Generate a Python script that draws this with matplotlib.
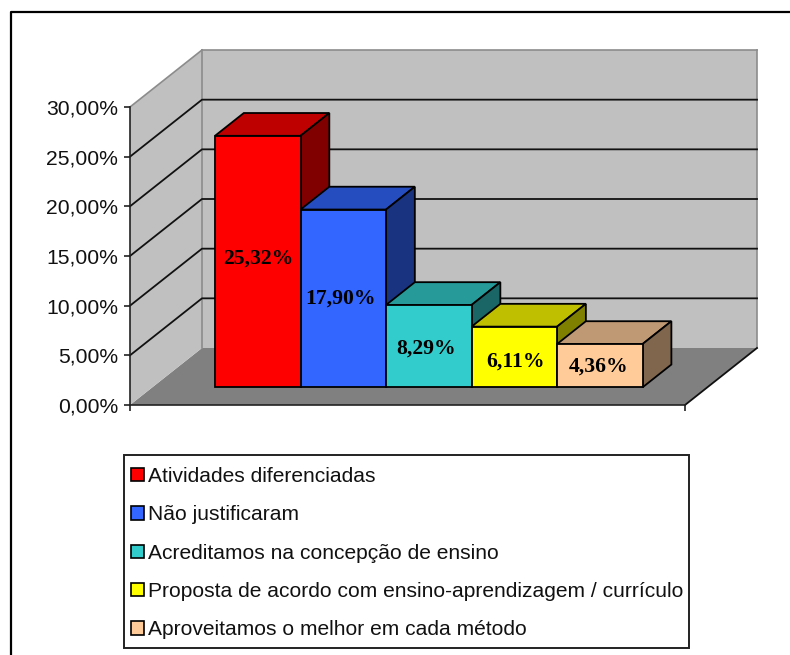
import matplotlib
matplotlib.use("Agg")
import matplotlib.pyplot as plt
from matplotlib.patches import Polygon, Patch, Rectangle

plt.rcParams["font.family"] = ["Liberation Sans", "DejaVu Sans"]

categorias = ["Atividades diferenciadas", "Não justificaram",
              "Acreditamos na concepção de ensino",
              "Proposta de acordo com ensino-aprendizagem / currículo",
              "Aproveitamos o melhor em cada método"]
valores = [25.32, 17.90, 8.29, 6.11, 4.36]
rotulos = ["25,32%", "17,90%", "8,29%", "6,11%", "4,36%"]
ticks_y = [0, 5, 10, 15, 20, 25, 30]
ticks_y_txt = ["0,00%", "5,00%", "10,00%", "15,00%", "20,00%", "25,00%", "30,00%"]

cor_frente = ["#FF0000", "#3366FF", "#33CCCC", "#FFFF00", "#FFCC99"]
cor_topo = ["#BF0000", "#264DBF", "#269999", "#BFBF00", "#BF9973"]
cor_lado = ["#800000", "#193380", "#1A6666", "#808000", "#80664D"]

# ajuste fino dos rotulos, em pixels
ajuste_x = [0, -2.5, -2.5, 1, -1.5]
ajuste_y = [2.5, 0, -2, -5, -1]

W, H = 790, 655
fig = plt.figure(figsize=(W / 100, H / 100), dpi=100, facecolor="white")

# moldura: so em cima e na esquerda
fig.add_artist(plt.Line2D([11 / W, 11 / W, 1], [0, 1 - 11.5 / H, 1 - 11.5 / H],
                          color="black", lw=1.6, transform=fig.transFigure))

# plano da frente do grafico em pixels
x0, x1, ybase, ytopo = 130, 685, 405, 107
ax = fig.add_axes([x0 / W, 1 - ybase / H, (x1 - x0) / W, (ybase - ytopo) / H])
ax.set_xlim(-0.733, 5.757)
ax.set_ylim(0, 30)
ax.patch.set_visible(False)

px_x = (x1 - x0) / 6.49
px_y = (ybase - ytopo) / 30.0
prof_x = 72 / px_x
prof_y = 57 / px_y


def proj(x, y, d):
    # d = profundidade, 0 na frente e 1 no fundo
    return (x + d * prof_x, y + d * prof_y)


def poli(pts, cor, ec="none", lw=0, z=1):
    ax.add_patch(Polygon(pts, closed=True, facecolor=cor, edgecolor=ec, linewidth=lw,
                         zorder=z, clip_on=False, joinstyle="miter"))


xa, xb = ax.get_xlim()
poli([proj(xa, 0, 0), proj(xb, 0, 0), proj(xb, 0, 1), proj(xa, 0, 1)], "#808080")
poli([proj(xa, 0, 0), proj(xa, 0, 1), proj(xa, 30, 1), proj(xa, 30, 0)], "#C0C0C0")
poli([proj(xa, 0, 1), proj(xb, 0, 1), proj(xb, 30, 1), proj(xa, 30, 1)], "#C0C0C0")

# contorno cinza das paredes
for a, b in [(proj(xa, 30, 0), proj(xa, 30, 1)), (proj(xa, 30, 1), proj(xb, 30, 1)),
             (proj(xb, 30, 1), proj(xb, 0, 1)), (proj(xa, 30, 1), proj(xa, 0, 1))]:
    ax.plot([a[0], b[0]], [a[1], b[1]], color="#8C8C8C", lw=1.2, zorder=1.2, clip_on=False)

# grades
for t in ticks_y[1:-1]:
    a, b, c = proj(xa, t, 0), proj(xa, t, 1), proj(xb, t, 1)
    ax.plot([a[0], b[0], c[0]], [a[1], b[1], c[1]], color="#111111", lw=1.3, zorder=1.5,
            clip_on=False)

a, b = proj(xb, 0, 0), proj(xb, 0, 1)
ax.plot([a[0], b[0]], [a[1], b[1]], color="#111111", lw=1.3, zorder=1.5, clip_on=False)

# barras
d1, d2 = 0.31, 0.71
lw_barra = 1.3
for i, v in enumerate(valores):
    e, r = i, i + 1
    poli([proj(e, v, d1), proj(r, v, d1), proj(r, v, d2), proj(e, v, d2)],
         cor_topo[i], "black", lw_barra, 3 + i * 0.1)
    poli([proj(r, 0, d1), proj(r, 0, d2), proj(r, v, d2), proj(r, v, d1)],
         cor_lado[i], "black", lw_barra, 3 + i * 0.1)
    poli([proj(e, 0, d1), proj(r, 0, d1), proj(r, v, d1), proj(e, v, d1)],
         cor_frente[i], "black", lw_barra, 3.05 + i * 0.1)
    ax.annotate(rotulos[i], proj(i + 0.5, v / 2, d1),
                xytext=(ajuste_x[i] * 0.72, ajuste_y[i] * 0.72), textcoords="offset points",
                ha="center", va="center", fontsize=15.6, family=["Liberation Serif"],
                weight="bold", color="black", zorder=5)

ax.set_yticks(ticks_y)
ax.set_yticklabels(ticks_y_txt, fontsize=15.2, color="#111111")
ax.set_xticks([xa, xb])
ax.set_xticklabels(["", ""])
ax.tick_params(axis="both", length=4, width=1.2, color="#222222", pad=4.5)
ax.spines["top"].set_visible(False)
ax.spines["right"].set_visible(False)
ax.spines["left"].set_linewidth(1.2)
ax.spines["bottom"].set_linewidth(1.2)
ax.spines["left"].set_color("#222222")
ax.spines["bottom"].set_color("#222222")

# legenda: caixa separada porque a folga vertical e maior que a horizontal
fig.add_artist(Rectangle((124 / W, 1 - 648 / H), 565 / W, 193 / H, transform=fig.transFigure,
                         facecolor="white", edgecolor="#222222", linewidth=1.4))
itens = [Patch(facecolor=c, edgecolor="black", linewidth=1.2) for c in cor_frente]
leg = fig.legend(itens, categorias, loc="upper left",
                 bbox_to_anchor=(131 / W, 1 - 467 / H), bbox_transform=fig.transFigure,
                 fontsize=15.15, frameon=False, borderaxespad=0, borderpad=0,
                 handlelength=0.6, handleheight=0.6, handletextpad=0.2,
                 labelspacing=0.92, labelcolor="#111111")

fig.savefig("out.png", dpi=100, facecolor="white")
